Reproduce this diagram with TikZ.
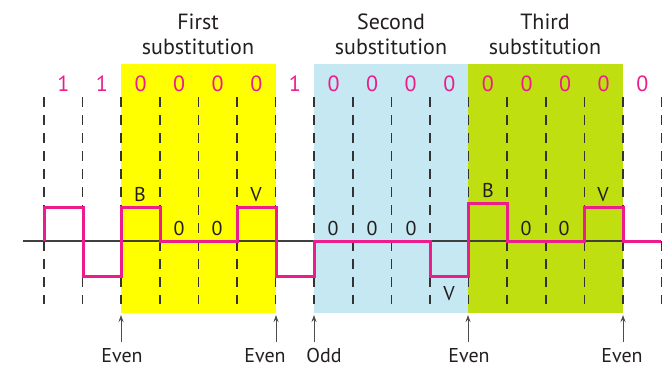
\documentclass[tikz,border=0pt]{standalone}
\usepackage{fontspec}
\setmainfont{PT Sans}
\usetikzlibrary{arrows.meta}
\definecolor{pinkc}{HTML}{EC1C8C}
\definecolor{yel}{HTML}{FFFF00}
\definecolor{blu}{HTML}{C5E8F2}
\definecolor{grn}{HTML}{BFDF10}
\definecolor{ink}{HTML}{231F20}
\begin{document}
\begin{tikzpicture}[x=1pt,y=-1pt,
 sig/.style={draw=pinkc,line width=3pt,line join=miter},
 gridline/.style={draw=black!80,line width=1.5pt,dash pattern=on 10pt off 8pt},
 bit/.style={text=pinkc,font=\fontsize{22}{22}\selectfont,anchor=base,inner sep=0pt},
 title/.style={font=\fontsize{22}{24}\selectfont,anchor=base,inner sep=0pt,text=ink},
 lab/.style={font=\fontsize{20}{20}\selectfont,anchor=base,inner sep=0pt,text=ink},
 arr/.style={draw=black!70,line width=1pt,-{Stealth[length=7pt,width=5pt]}}]
\useasboundingbox (0,0) rectangle (668,368);
\fill[yel] (121,64) rectangle (276,313);
\fill[blu] (314,64) rectangle (468,313);
\fill[grn] (468,64) rectangle (623,313);
\foreach \i in {0,...,16}{
  \draw[gridline] ({44+38.6*\i},97) -- ({44+38.6*\i},304);
}
\draw[draw=black!75,line width=2pt] (23,241) -- (661,241);
\draw[sig] (44,241) -- (44,207) -- (83,207) -- (83,276) -- (121,276) -- (121,207) -- (160,207) -- (160,241) -- (237,241) -- (237,207) -- (276,207) -- (276,276) -- (314,276) -- (314,241) -- (430,241) -- (430,276) -- (468,276) -- (468,203) -- (507,203) -- (507,241) -- (584,241) -- (584,207) -- (623,207) -- (623,241) -- (661,241);
% titles
\node[title] (t1a) at (198,29) {First};
\node[title] (t1b) at (198,54) {substitution};
\node[title] (t2a) at (391,29) {Second};
\node[title] (t2b) at (391,54) {substitution};
\node[title] (t3a) at (545,29) {Third};
\node[title] (t3b) at (545,54) {substitution};
% bits
\foreach \b [count=\k from 0] in {1,1,0,0,0,0,1,0,0,0,0,0,0,0,0,0}{
  \node[bit] (bit\k) at ({44+38.6*(\k+0.5)},91) {\b};
}
% pulse labels
\node[lab] (b1) at (140,201) {B};
\node[lab] (z1) at (179,235) {0};
\node[lab] (z2) at (217,235) {0};
\node[lab] (v1) at (256,201) {V};
\node[lab] (z3) at (333,235) {0};
\node[lab] (z4) at (372,235) {0};
\node[lab] (z5) at (411,235) {0};
\node[lab] (v2) at (449,300) {V};
\node[lab] (b2) at (488,197) {B};
\node[lab] (z6) at (526,235) {0};
\node[lab] (z7) at (564,235) {0};
\node[lab] (v3) at (603,201) {V};
% arrows
\foreach \n/\x in {a1/121,a2/276,a3/314,a4/468,a5/623}{
  \coordinate (\n s) at (\x,342);
  \coordinate (\n t) at (\x,315);
  \draw[arr] (\n s) -- (\n t);
}
\node[lab] (e1) at (122,362) {Even};
\node[lab] (e2) at (265,362) {Even};
\node[lab] (o1) at (324,362) {Odd};
\node[lab] (e3) at (469,362) {Even};
\node[lab] (e4) at (622,362) {Even};
\end{tikzpicture}
\end{document}
